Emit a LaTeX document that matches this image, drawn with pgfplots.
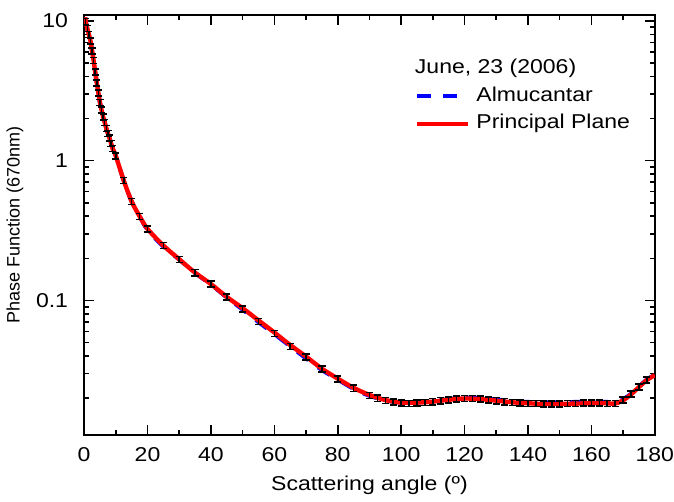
\documentclass[border=0pt]{standalone}
\usepackage{pgfplots}
\pgfplotsset{compat=1.18}
\usepackage{pgfplotstable}
\usepackage{fontspec}
\setmainfont{Liberation Sans}[FakeStretch=1.15]
\newfontfamily\plainfont{Liberation Sans}

\pgfplotstableread{
x y
0.3 10.6
0.5 9.9
1 8.8
1.5 8.0
2 7.2
2.5 6.1
3 5.2
3.5 4.3
4 3.6
4.5 3.05
5 2.6
5.5 2.3
6 2.05
6.5 1.88
7 1.7
7.5 1.57
8 1.45
8.5 1.33
9 1.22
10 1.08
12.5 0.72
15 0.51
17.5 0.40
20 0.325
25 0.247
30 0.197
35 0.158
40 0.131
45 0.106
50 0.088
55 0.072
60 0.059
65 0.048
70 0.0397
75 0.0325
80 0.0276
85 0.0237
90 0.0211
95 0.0194
100 0.0186
105 0.0186
110 0.0189
115 0.0195
120 0.0199
125 0.0197
130 0.0192
135 0.0187
140 0.0184
145 0.0182
150 0.0182
155 0.0183
160 0.0184
165 0.0184
167.5 0.0183
170 0.0193
172.5 0.0213
175 0.0240
177.5 0.0270
180 0.0292
}\principal

\pgfplotstableread{
x y
0.3 10.6
0.5 9.9
1 8.8
1.5 8.0
2 7.2
2.5 6.1
3 5.2
3.5 4.3
4 3.6
4.5 3.05
5 2.6
5.5 2.3
6 2.05
6.5 1.88
7 1.7
7.5 1.57
8 1.45
8.5 1.33
9 1.22
10 1.08
12.5 0.72
15 0.51
17.5 0.40
20 0.320
25 0.243
30 0.196
35 0.157
40 0.130
45 0.105
50 0.086
55 0.070
60 0.0575
65 0.047
70 0.0385
75 0.0318
80 0.0272
85 0.0233
90 0.0208
95 0.0193
100 0.0186
105 0.0187
110 0.0191
115 0.0197
120 0.0202
125 0.0201
130 0.0196
135 0.0190
140 0.0188
145 0.0187
150 0.0187
155 0.0188
160 0.0189
165 0.0188
167.5 0.0187
170 0.0197
172.5 0.0215
175 0.0242
177.5 0.0272
180 0.0294
}\almucantar

\pgfplotstableread{
x y
0.5 9.9
1 8.8
1.5 8.0
2 7.2
2.5 6.1
3 5.2
3.5 4.3
4 3.6
4.5 3.05
5 2.6
5.5 2.3
6 2.05
6.5 1.88
7 1.7
7.5 1.57
8 1.45
8.5 1.33
9 1.22
10 1.08
12.5 0.72
15 0.51
17.5 0.40
20 0.325
25 0.247
30 0.197
35 0.158
40 0.131
45 0.106
50 0.087
55 0.071
60 0.058
65 0.047
70 0.0395
75 0.0323
80 0.0275
85 0.0236
90 0.0210
92.5 0.0200
95 0.0193
97.5 0.0188
100 0.0185
102.5 0.0184
105 0.0185
107.5 0.0187
110 0.0189
112.5 0.0192
115 0.0195
117.5 0.0197
120 0.0199
122.5 0.0199
125 0.0198
127.5 0.0195
130 0.0192
132.5 0.0189
135 0.0187
137.5 0.0185
140 0.0184
142.5 0.0183
145 0.0182
147.5 0.0182
150 0.0182
152.5 0.0183
155 0.0184
157.5 0.0185
160 0.0185
162.5 0.0185
165 0.0184
167.5 0.0183
170 0.0195
172.5 0.0215
175 0.0240
177.5 0.0270
}\errpts

\begin{document}
\begin{tikzpicture}
\begin{axis}[
  scale only axis,
  width=285pt, height=209.5pt,
  ymode=log,
  xmin=0, xmax=180, ymin=0.011, ymax=11,
  xtick={0,20,...,180}, minor x tick num=1,
  log ticks with fixed point,
  /pgf/number format/assume math mode=true,
  tick align=inside,
  major tick length=5pt, minor tick length=2.5pt,
  axis line style={line width=1pt},
  every tick/.style={black, line width=0.8pt},
  tick label style={font=\fontsize{10}{11}\selectfont},
  xticklabel style={yshift=-3pt, inner xsep=0pt},
  yticklabel style={xshift=-4.5pt},
  xlabel={Scattering angle (º)},
  ylabel={\plainfont Phase Function (670nm)},
  xlabel style={font=\fontsize{10}{11}\selectfont, at={(axis description cs:0.5,-0.1217)}, anchor=center},
  ylabel style={font=\fontsize{9}{10}\selectfont, at={(axis description cs:-0.121,0.5)}, anchor=center},
  legend style={at={(axis description cs:0.579,0.83)}, anchor=north west,
    draw=none, fill=none, inner sep=0pt,
    font=\fontsize{10}{11}\selectfont,
    nodes={inner sep=0pt, text height=7.2pt, text depth=2.2pt},
    row sep=4.4pt, column sep=3pt},
  legend cell align=left,
  legend image code/.code={\draw[#1] (0pt,0pt) -- (25.5pt,0pt);},
]
\addplot[blue, line width=2pt, dash pattern=on 7pt off 6pt, smooth] table[x=x,y=y] {\almucantar};
\addlegendentry{Almucantar}
\addplot[red, line width=2.2pt, smooth] table[x=x,y=y] {\principal};
\addlegendentry{Principal Plane}
\addplot[draw=none, mark=none, forget plot,
  error bars/.cd, y dir=both, y fixed relative=0.05,
  error bar style={draw=black, line width=0.75pt},
  error mark options={draw=black, rotate=90, mark size=1.8pt, line width=0.75pt}]
  table[x=x,y=y] {\errpts};
\node[anchor=west, inner sep=0pt, font=\fontsize{10}{11}\selectfont] at (axis description cs:0.579,0.8735) {June, 23 (2006)};
\end{axis}
\path ([yshift=7.5pt]current axis.north);
\end{tikzpicture}
\end{document}
